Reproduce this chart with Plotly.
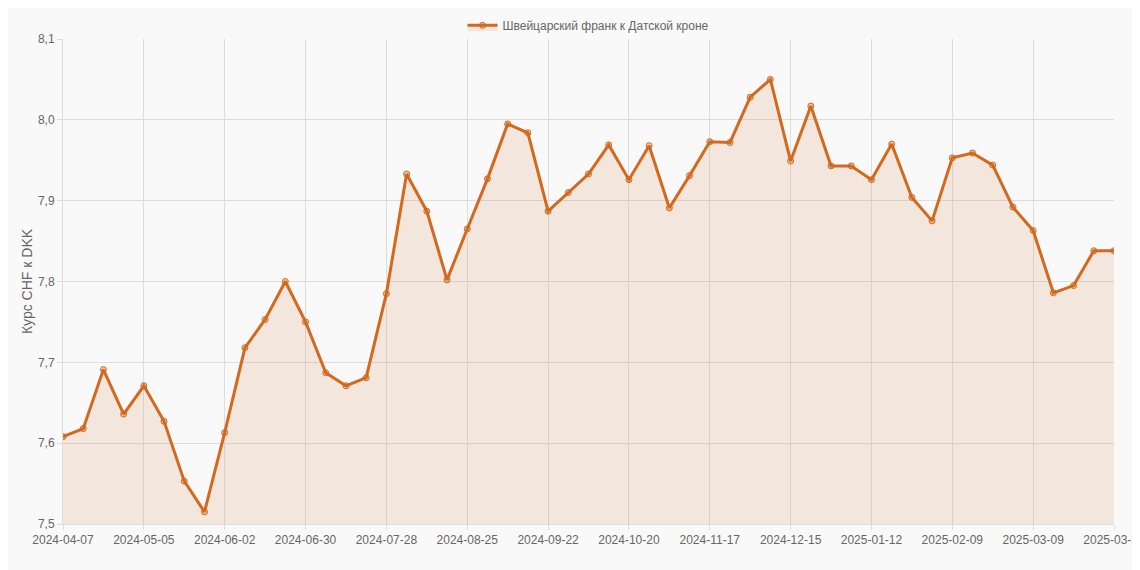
import plotly.graph_objects as go
import pandas as pd

dates = [d.strftime("%Y-%m-%d") for d in pd.date_range("2024-04-07", periods=52, freq="7D")] + ["2025-03-31"]
values = [7.608, 7.618, 7.691, 7.636, 7.671, 7.627, 7.553, 7.515, 7.613, 7.718,
          7.753, 7.800, 7.750, 7.687, 7.671, 7.681, 7.785, 7.933, 7.887, 7.802,
          7.865, 7.927, 7.995, 7.984, 7.887, 7.910, 7.933, 7.969, 7.926, 7.968,
          7.891, 7.931, 7.973, 7.972, 8.028, 8.050, 7.949, 8.017, 7.943, 7.943,
          7.926, 7.970, 7.904, 7.875, 7.953, 7.959, 7.944, 7.892, 7.863, 7.786,
          7.795, 7.838, 7.838]
tick_idx = list(range(0, 52, 4)) + [52]
tick_labels = [dates[i] for i in tick_idx]
y_ticks = [7.5, 7.6, 7.7, 7.8, 7.9, 8.0, 8.1]

fig = go.Figure(go.Scatter(
    x=list(range(len(values))), y=values, mode="lines+markers",
    name="Швейцарский франк к Датской кроне",
    line=dict(color="#d2691e", width=3),
    marker=dict(size=6, color="rgba(210,105,30,0.35)", line=dict(color="#d2691e", width=1)),
    fill="tozeroy", fillcolor="rgba(210,105,30,0.13)",
))
fig.update_layout(
    width=1140, height=570, paper_bgcolor="#f9f9f9", plot_bgcolor="#f9f9f9",
    margin=dict(l=55, r=34, t=31, b=54, autoexpand=False),
    font=dict(family="Liberation Sans, Arial", size=12, color="#666"),
    showlegend=True,
    legend=dict(orientation="h", x=0.5, xanchor="center", yref="container", y=0.995, yanchor="top",
                font=dict(size=12, color="#666"), bgcolor="rgba(0,0,0,0)"),
    xaxis=dict(range=[0, 52], tickvals=tick_idx, ticktext=tick_labels, showgrid=True, automargin=False,
               gridcolor="#dddddd", zeroline=False, showline=True, linecolor="#dddddd",
               ticks="outside", tickcolor="#dddddd", ticklen=5, tickangle=0),
    yaxis=dict(range=[7.5, 8.1], tickvals=y_ticks, automargin=False,
               ticktext=[f"{v:.1f}".replace(".", ",") for v in y_ticks],
               showgrid=True, gridcolor="#dddddd", zeroline=False, showline=True,
               linecolor="#dddddd", ticks="outside", tickcolor="#dddddd", ticklen=5,
               title=dict(text="Курс CHF к DKK", font=dict(size=14, color="#666"), standoff=2)),
)
fig.write_html("out.html")
